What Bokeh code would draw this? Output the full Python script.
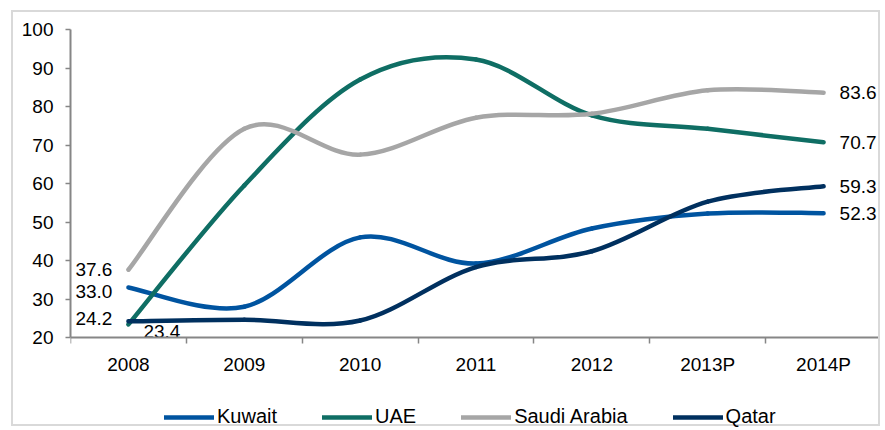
import numpy as np
from bokeh.plotting import figure
from bokeh.models import (Range1d, FixedTicker, Legend, LegendItem,
                          ColumnDataSource, InlineStyleSheet)
from bokeh.core.properties import value
from bokeh.embed import file_html
from bokeh.resources import INLINE

# ---------------- data ----------------
years = ["2008", "2009", "2010", "2011", "2012", "2013P", "2014P"]
kuwait = [33.0, 28.0, 46.0, 39.2, 48.3, 52.2, 52.3]
uae = [23.4, 59.5, 87.0, 92.2, 77.7, 74.2, 70.7]
saudi = [37.6, 74.2, 67.5, 77.1, 78.1, 84.2, 83.6]
qatar = [24.2, 24.6, 24.4, 38.3, 42.4, 55.3, 59.3]
y_ticks = [20, 30, 40, 50, 60, 70, 80, 90, 100]

series_names = ["Kuwait", "UAE", "Saudi Arabia", "Qatar"]
series_values = [kuwait, uae, saudi, qatar]
series_colors = ["#0054A0", "#0F6E64", "#A6A6A6", "#00305F"]

FONT = "Liberation Sans"
FS = "19px"

# ---------------- layout constants (pixels) ----------------
W, H = 869, 416
B_LEFT, B_TOP, B_RIGHT, B_BOTTOM = 57, 17, 1, 0
AXIS_SPAN_PX = 308           # height of the 20..100 band
Y_LO, Y_HI = y_ticks[0], y_ticks[-1]
frame_h = H - B_TOP - B_BOTTOM
px_per_unit = AXIS_SPAN_PX / (Y_HI - Y_LO)
y_start = Y_HI - frame_h / px_per_unit   # frame extends below 20 to hold legend

p = figure(width=W, height=H, output_backend="svg", toolbar_location=None,
           x_range=Range1d(0, len(years)), y_range=Range1d(y_start, Y_HI),
           min_border_left=B_LEFT, min_border_top=B_TOP,
           min_border_right=B_RIGHT, min_border_bottom=B_BOTTOM)
p.stylesheets = [InlineStyleSheet(
    css=":host { border: 2px solid #D9D9D9; margin: 10px 0 0 11px; }")]
p.outline_line_color = None
p.xgrid.grid_line_color = None
p.ygrid.grid_line_color = None
p.background_fill_color = "white"
p.border_fill_color = "white"

xs = [i + 0.5 for i in range(len(years))]


def smooth_source(xv, yv):
    n = len(xv)
    px = [xv[0]] + list(xv) + [xv[-1]]
    py = [yv[0]] + list(yv) + [yv[-1]]
    d = dict(x0=[], y0=[], x1=[], y1=[], cx0=[], cy0=[], cx1=[], cy1=[])
    for i in range(n - 1):
        j = i + 1
        d["x0"].append(px[j]); d["y0"].append(py[j])
        d["x1"].append(px[j + 1]); d["y1"].append(py[j + 1])
        d["cx0"].append(px[j] + (px[j + 1] - px[j - 1]) / 6)
        d["cy0"].append(py[j] + (py[j + 1] - py[j - 1]) / 6)
        d["cx1"].append(px[j + 1] - (px[j + 2] - px[j]) / 6)
        d["cy1"].append(py[j + 1] - (py[j + 2] - py[j]) / 6)
    return ColumnDataSource(d)


items = []
for name, vals, col in zip(series_names, series_values, series_colors):
    r = p.bezier(x0="x0", y0="y0", x1="x1", y1="y1", cx0="cx0", cy0="cy0",
                 cx1="cx1", cy1="cy1", source=smooth_source(xs, vals),
                 line_color=col, line_width=4.5, line_cap="round")
    items.append(LegendItem(label=name, renderers=[r]))

# ---------------- data labels ----------------
lab_font = value(FONT)
left_src = ColumnDataSource(dict(
    x=[xs[0]] * 3,
    y=[saudi[0], kuwait[0], qatar[0]],
    t=[f"{saudi[0]:.1f}", f"{kuwait[0]:.1f}", f"{qatar[0]:.1f}"],
    dy=[0, 4, -3]))
p.text(x="x", y="y", text="t", y_offset="dy", x_offset=-16, source=left_src,
       text_align="right", text_baseline="middle", text_font=lab_font,
       text_font_size=FS, text_color="black")
p.text(x=[xs[0]], y=[uae[0]], text=[f"{uae[0]:.1f}"], x_offset=15, y_offset=7,
       text_align="left", text_baseline="middle", text_font=lab_font,
       text_font_size=FS, text_color="black")
right_src = ColumnDataSource(dict(
    x=[xs[-1]] * 4,
    y=[v[-1] for v in series_values],
    t=[f"{v[-1]:.1f}" for v in series_values]))
p.text(x="x", y="y", text="t", x_offset=16, source=right_src,
       text_align="left", text_baseline="middle", text_font=lab_font,
       text_font_size=FS, text_color="black")

# ---------------- axes ----------------
AX = "#868686"
xa = p.xaxis[0]
xa.fixed_location = Y_LO
xa.ticker = FixedTicker(ticks=xs, minor_ticks=list(range(len(years) + 1)))
xa.major_label_overrides = {x: y for x, y in zip(xs, years)}
xa.major_tick_line_color = None
xa.major_tick_out = 6
xa.major_tick_in = 0
xa.minor_tick_line_color = AX
xa.minor_tick_line_width = 1.5
xa.minor_tick_out = 6
xa.minor_tick_in = 0
xa.axis_line_color = AX
xa.axis_line_width = 2
xa.major_label_standoff = 10
xa.major_label_text_font = FONT
xa.major_label_text_font_size = FS
xa.major_label_text_color = "black"

ya = p.yaxis[0]
ya.bounds = (Y_LO, Y_HI)
ya.ticker = FixedTicker(ticks=y_ticks)
ya.minor_tick_line_color = None
ya.major_tick_line_color = AX
ya.major_tick_line_width = 1.5
ya.major_tick_out = 5
ya.major_tick_in = 0
ya.axis_line_color = AX
ya.axis_line_width = 2
ya.major_label_standoff = 12
ya.major_label_text_font = FONT
ya.major_label_text_font_size = FS
ya.major_label_text_color = "black"

# ---------------- legend ----------------
legend = Legend(items=items, orientation="horizontal", location=(94, 0),
                glyph_width=50, glyph_height=20, label_standoff=3, spacing=45,
                padding=0, margin=0, border_line_color=None,
                background_fill_alpha=0, label_text_font=FONT,
                label_text_font_size="20px", label_text_color="black")
p.add_layout(legend, "center")

open("out.html", "w").write(file_html(p, INLINE))
